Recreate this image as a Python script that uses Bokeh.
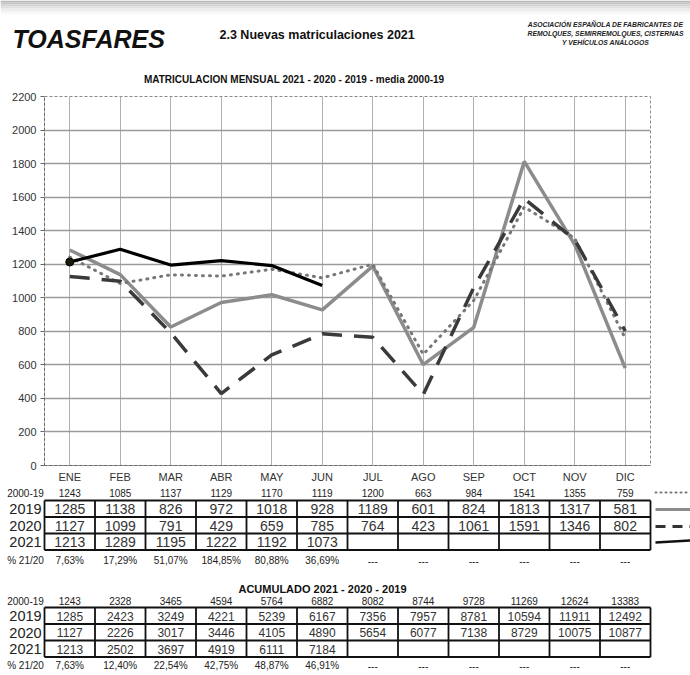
from bokeh.plotting import figure
from bokeh.models import Range1d, FactorRange, FixedTicker
from bokeh.embed import file_html
from bokeh.resources import INLINE
from bokeh.core.properties import value

# ---------------- data ----------------
months = ["ENE", "FEB", "MAR", "ABR", "MAY", "JUN", "JUL", "AGO", "SEP", "OCT", "NOV", "DIC"]
media_2000_19 = [1243, 1085, 1137, 1129, 1170, 1119, 1200, 663, 984, 1541, 1355, 759]
y2019 = [1285, 1138, 826, 972, 1018, 928, 1189, 601, 824, 1813, 1317, 581]
y2020 = [1127, 1099, 791, 429, 659, 785, 764, 423, 1061, 1591, 1346, 802]
y2021 = [1213, 1289, 1195, 1222, 1192, 1073]
pct_21_20 = ["7,63%", "17,29%", "51,07%", "184,85%", "80,88%", "36,69%",
             "---", "---", "---", "---", "---", "---"]

acum_media = [1243, 2328, 3465, 4594, 5764, 6882, 8082, 8744, 9728, 11269, 12624, 13383]
acum_2019 = [1285, 2423, 3249, 4221, 5239, 6167, 7356, 7957, 8781, 10594, 11911, 12492]
acum_2020 = [1127, 2226, 3017, 3446, 4105, 4890, 5654, 6077, 7138, 8729, 10075, 10877]
acum_2021 = [1213, 2502, 3697, 4919, 6111, 7184]
acum_pct = ["7,63%", "12,40%", "22,54%", "42,75%", "48,87%", "46,91%",
            "---", "---", "---", "---", "---", "---"]

y_ticks = list(range(0, 2201, 200))

# ---------------- layout constants (page pixels) ----------------
W = 690
FRAME_L, FRAME_R = 44, 650
FRAME_T, FRAME_B = 96, 465
CELL = (FRAME_R - FRAME_L) / 12.0
HEAD_BOT = 88
CHART_BOT = 485
TABLE_BOT = 675
FONT = value("Liberation Sans")

def cx(page_x):
    return (page_x - FRAME_L) / CELL

# ---------------- header ----------------
head = figure(width=W, height=HEAD_BOT, x_range=Range1d(0, W),
              y_range=Range1d(HEAD_BOT, 0), toolbar_location=None,
              output_backend="svg", x_axis_type=None, y_axis_type=None, min_border=0)
head.grid.visible = False
head.outline_line_color = None

# soft grey shade at the top edge of the scanned page
shade = ["#b8b8b8", "#c6c6c6", "#d3d3d3", "#dfdfdf", "#e9e9e9", "#f2f2f2", "#f9f9f9"]
head.quad(left=[0] * 7, right=[W] * 7, top=[2 * k for k in range(7)],
          bottom=[2 * k + 2 for k in range(7)], fill_color=shade, line_color=None)

head.text(x=[12], y=[38], text=["TOASFARES"], text_font=FONT, text_font_size="25px",
          text_font_style="bold italic", text_color="#111", text_baseline="middle", text_align="left")
head.text(x=[219], y=[34], text=["2.3 Nuevas matriculaciones 2021"], text_font=FONT,
          text_font_size="12.5px", text_font_style="bold", text_color="#111",
          text_baseline="middle", text_align="left")
head.text(x=[605, 605, 605], y=[24, 33, 42],
          text=["ASOCIACIÓN ESPAÑOLA DE FABRICANTES DE",
                "REMOLQUES, SEMIRREMOLQUES, CISTERNAS",
                "Y VEHÍCULOS ANÁLOGOS"],
          text_font=FONT, text_font_size="6.8px", text_font_style="bold italic",
          text_color="#222", text_baseline="middle", text_align="center")
head.text(x=[295], y=[79], text=["MATRICULACION MENSUAL  2021 - 2020 - 2019 - media 2000-19"],
          text_font=FONT, text_font_size="10px", text_font_style="bold", text_color="#111",
          text_baseline="middle", text_align="center")

# ---------------- chart ----------------
p = figure(width=W, height=CHART_BOT - HEAD_BOT, x_range=FactorRange(*months),
           y_range=Range1d(0, 2200), toolbar_location=None, output_backend="svg",
           min_border_left=FRAME_L, min_border_right=W - FRAME_R,
           min_border_top=FRAME_T - HEAD_BOT, min_border_bottom=CHART_BOT - FRAME_B)
p.outline_line_color = "#8a8a8a"
p.outline_line_dash = "3 2"
p.outline_line_width = 1

p.yaxis.ticker = FixedTicker(ticks=y_ticks)
p.yaxis.major_label_text_font = "Liberation Sans"
p.yaxis.major_label_text_font_size = "11px"
p.yaxis.major_label_text_color = "#333"
p.yaxis.major_label_standoff = 4
p.yaxis.major_tick_in = 0
p.yaxis.major_tick_out = 4
p.yaxis.minor_tick_line_color = None
p.yaxis.axis_line_dash = "3 2"
p.yaxis.axis_line_color = "#666"
p.yaxis.major_tick_line_color = "#666"

p.xaxis.major_label_text_font = "Liberation Sans"
p.xaxis.major_label_text_font_size = "11px"
p.xaxis.major_label_text_color = "#333"
p.xaxis.major_label_standoff = 5
p.xaxis.major_tick_in = 0
p.xaxis.major_tick_out = 0
p.xaxis.major_tick_line_color = None
p.xaxis.axis_line_dash = "3 2"
p.xaxis.axis_line_color = "#666"

p.ygrid.grid_line_color = "#9a9a9a"
p.ygrid.grid_line_width = 1.3
p.xgrid.grid_line_color = "#b0b0b0"
p.xgrid.grid_line_width = 1

p.line(months, y2019, line_color="#8c8c8c", line_width=3.5)
p.line(months, media_2000_19, line_color="#777777", line_width=3, line_dash="1 6", line_cap="round")
p.line(months, y2020, line_color="#3a3a3a", line_width=3.5, line_dash="20 12")
p.line(months[:len(y2021)], y2021, line_color="#000000", line_width=3.2)
p.scatter(months[:1], y2021[:1], size=8, fill_color="#1a1a0a", line_color="#000")

# ---------------- tables ----------------
t = figure(width=W, height=TABLE_BOT - CHART_BOT,
           x_range=Range1d(cx(0), cx(W)), y_range=Range1d(TABLE_BOT, CHART_BOT),
           toolbar_location=None, output_backend="svg", x_axis_type=None, y_axis_type=None,
           min_border=0)
t.grid.visible = False
t.outline_line_color = None

centers = [i + 0.5 for i in range(12)]
lab_x = cx(25)

def table(top, rh, media_y, rows_y, pct_y, media_vals, rows, pct_vals, val_size):
    t.text(x=[lab_x], y=[media_y], text=["2000-19"], text_font=FONT, text_font_size="10px",
           text_color="#222", text_align="center", text_baseline="middle")
    t.text(x=centers, y=[media_y] * 12, text=[str(v) for v in media_vals], text_font=FONT,
           text_font_size="10px", text_color="#222", text_align="center", text_baseline="middle")
    for (label, vals), ry in zip(rows, rows_y):
        t.text(x=[lab_x], y=[ry], text=[label], text_font=FONT, text_font_size="14.5px",
               text_color="#222", text_align="center", text_baseline="middle")
        t.text(x=centers[:len(vals)], y=[ry] * len(vals), text=[str(v) for v in vals],
               text_font=FONT, text_font_size=val_size, text_color="#333",
               text_align="center", text_baseline="middle")
    hy = [top + k * rh for k in range(4)]
    t.segment(x0=[0] * 4, x1=[12] * 4, y0=hy, y1=hy, line_color="#111", line_width=1.8)
    t.segment(x0=list(range(13)), x1=list(range(13)), y0=[hy[0]] * 13, y1=[hy[-1]] * 13,
              line_color="#111", line_width=1.8)
    t.text(x=[lab_x], y=[pct_y], text=["% 21/20"], text_font=FONT, text_font_size="10px",
           text_color="#222", text_align="center", text_baseline="middle")
    t.text(x=centers, y=[pct_y] * 12, text=pct_vals, text_font=FONT, text_font_size="10px",
           text_color="#222", text_align="center", text_baseline="middle")

table(500, 16.5, 492, [508.5, 525, 541.5], 560, media_2000_19,
      [("2019", y2019), ("2020", y2020), ("2021", y2021)], pct_21_20, "14px")

t.text(x=[cx(322)], y=[588], text=["ACUMULADO 2021 - 2020 - 2019"], text_font=FONT,
       text_font_size="11px", text_font_style="bold", text_color="#111",
       text_align="center", text_baseline="middle")
table(607, 16.5, 600, [615.5, 632, 648.5], 665, acum_media,
      [("2019", acum_2019), ("2020", acum_2020), ("2021", acum_2021)], acum_pct, "12px")

# legend samples at the right of the first table
lx0, lx1 = cx(655), cx(690)
t.line([lx0, lx1], [492, 492], line_color="#777", line_width=2, line_dash="1 4", line_cap="round")
t.line([lx0, lx1], [509, 509], line_color="#8c8c8c", line_width=3)
t.line([lx0, lx1], [526, 526], line_color="#333", line_width=3, line_dash="10 7")
t.line([lx0, lx1], [542, 540], line_color="#111", line_width=2.5)

# separate roots so each figure keeps its own frame geometry
open("out.html", "w").write(file_html([head, p, t], INLINE))
